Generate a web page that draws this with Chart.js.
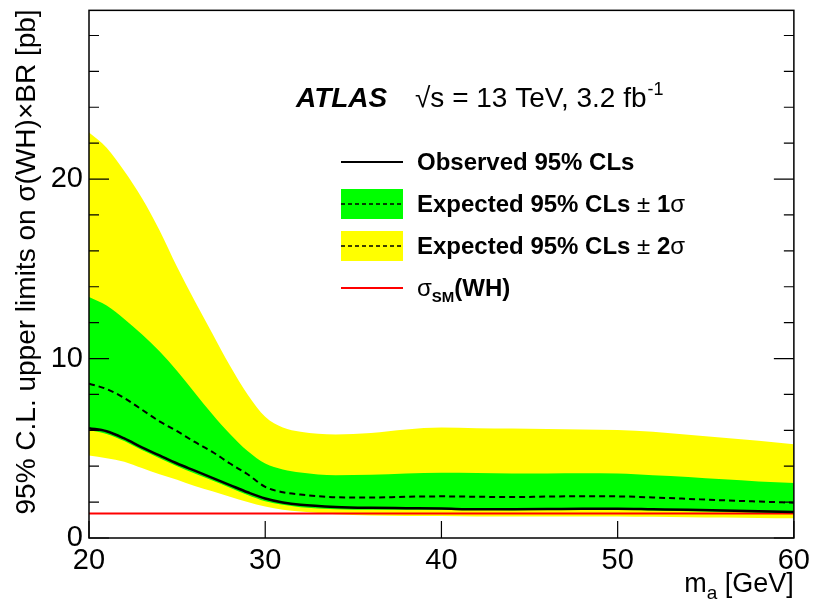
<!DOCTYPE html>
<html>
<head>
<meta charset="utf-8">
<script src="https://cdn.jsdelivr.net/npm/chart.js@4/dist/chart.umd.min.js"></script>
<style>
  html, body { margin: 0; padding: 0; background: #fff; }
  #wrap { width: 816px; height: 604px; }
</style>
</head>
<body>
<div id="wrap"><canvas id="limitChart" width="816" height="604"></canvas></div>
<script>
// m_a points [GeV]
const massPoints = [20, 21, 22, 23, 24, 25, 26, 27, 28, 29, 30, 31, 32, 34, 36, 38, 40, 42, 44, 46, 48, 50, 52, 54, 56, 58, 60];

// limits on sigma(WH) x BR [pb]
const observed = [6.12, 5.95, 5.55, 5.05, 4.6, 4.15, 3.75, 3.35, 2.95, 2.55, 2.2, 1.98, 1.85, 1.73, 1.68, 1.66, 1.64, 1.6, 1.6, 1.61, 1.63, 1.63, 1.6, 1.57, 1.53, 1.49, 1.45];
const expected = [8.6, 8.3, 7.8, 7.15, 6.5, 5.95, 5.35, 4.8, 4.15, 3.55, 2.85, 2.55, 2.42, 2.27, 2.25, 2.3, 2.32, 2.3, 2.28, 2.31, 2.33, 2.32, 2.26, 2.18, 2.1, 2.03, 1.97];
const plus1Sigma = [13.43, 12.95, 12.2, 11.35, 10.4, 9.3, 8.1, 6.9, 5.8, 4.85, 4.15, 3.82, 3.65, 3.5, 3.52, 3.6, 3.63, 3.62, 3.6, 3.6, 3.61, 3.6, 3.5, 3.4, 3.27, 3.15, 3.06];
const minus1Sigma = [6.0, 5.8, 5.4, 4.9, 4.45, 4.0, 3.6, 3.2, 2.8, 2.4, 2.05, 1.85, 1.72, 1.6, 1.57, 1.58, 1.58, 1.56, 1.55, 1.56, 1.57, 1.57, 1.53, 1.49, 1.45, 1.41, 1.38];
const plus2Sigma = [22.6, 21.75, 20.45, 18.95, 17.15, 15.1, 13.2, 11.4, 9.6, 8.0, 6.75, 6.15, 5.92, 5.77, 5.85, 6.05, 6.15, 6.12, 6.1, 6.07, 6.05, 6.02, 5.92, 5.75, 5.58, 5.42, 5.22];
const minus2Sigma = [4.59, 4.45, 4.25, 3.9, 3.55, 3.25, 2.9, 2.6, 2.3, 2.0, 1.75, 1.58, 1.48, 1.33, 1.26, 1.23, 1.22, 1.2, 1.2, 1.2, 1.2, 1.2, 1.18, 1.16, 1.14, 1.12, 1.1];
const smWH = [1.36, 1.36];
const smMass = [20, 60];

const xTicks = [20, 30, 40, 50, 60];
const yTicks = [0, 10, 20];
const yMinorTicks = [2, 4, 6, 8, 12, 14, 16, 18, 22, 24, 26, 28];

const FONT = "'Liberation Sans', Arial, sans-serif";

function pts(ys, xs) {
  return ys.map((y, i) => ({ x: (xs || massPoints)[i], y: y }));
}

const bandStyle = { pointRadius: 0, borderWidth: 0, cubicInterpolationMode: "monotone" };

// frame, inner ticks, titles and legend
const decorations = {
  id: "decorations",
  afterDraw(chart) {
    const ctx = chart.ctx;
    const a = chart.chartArea;
    const xs = chart.scales.x;
    const ys = chart.scales.y;
    ctx.save();
    ctx.strokeStyle = "#000";
    ctx.lineWidth = 1.5;
    ctx.strokeRect(a.left, a.top, a.right - a.left, a.bottom - a.top);

    ctx.lineWidth = 1.2;
    ctx.beginPath();
    yTicks.forEach((v) => {
      const py = ys.getPixelForValue(v);
      ctx.moveTo(a.left, py); ctx.lineTo(a.left + 20, py);
      ctx.moveTo(a.right, py); ctx.lineTo(a.right - 20, py);
    });
    yMinorTicks.forEach((v) => {
      const py = ys.getPixelForValue(v);
      ctx.moveTo(a.left, py); ctx.lineTo(a.left + 10, py);
      ctx.moveTo(a.right, py); ctx.lineTo(a.right - 10, py);
    });
    xTicks.forEach((v) => {
      const px = xs.getPixelForValue(v);
      ctx.moveTo(px, a.bottom); ctx.lineTo(px, a.bottom - 17);
    });
    ctx.stroke();

    // y title
    ctx.fillStyle = "#000";
    ctx.save();
    ctx.translate(35, a.top - 1);
    ctx.rotate(-Math.PI / 2);
    ctx.font = "28px " + FONT;
    ctx.textAlign = "right";
    ctx.textBaseline = "alphabetic";
    ctx.fillText("95% C.L. upper limits on \u03c3(WH)\u00d7BR [pb]", 0, 0);
    ctx.restore();

    // x title
    ctx.textAlign = "left";
    ctx.textBaseline = "alphabetic";
    ctx.font = "27px " + FONT;
    const t1 = "m", t3 = " [GeV]";
    const w1 = ctx.measureText(t1).width;
    const w3 = ctx.measureText(t3).width;
    ctx.font = "19px " + FONT;
    const w2 = ctx.measureText("a").width;
    let x0 = a.right - (w1 + w2 + w3);
    const by = 592;
    ctx.font = "27px " + FONT;
    ctx.fillText(t1, x0, by);
    ctx.font = "19px " + FONT;
    ctx.fillText("a", x0 + w1, by + 7);
    ctx.font = "27px " + FONT;
    ctx.fillText(t3, x0 + w1 + w2, by);

    // ATLAS label
    ctx.font = "italic bold 28px " + FONT;
    ctx.fillText("ATLAS", 296, 107);
    ctx.font = "28px " + FONT;
    const lumi = "\u221as = 13 TeV, 3.2 fb";
    ctx.fillText(lumi, 415, 107);
    const lw = ctx.measureText(lumi).width;
    ctx.font = "18px " + FONT;
    ctx.fillText("-1", 415 + lw + 1, 95);

    // legend
    const lx0 = 341, lx1 = 403, tx = 417;
    ctx.lineWidth = 2;
    ctx.strokeStyle = "#000";
    ctx.beginPath(); ctx.moveTo(lx0, 162); ctx.lineTo(lx1, 162); ctx.stroke();
    ctx.fillStyle = "#00ff00";
    ctx.fillRect(lx0, 189, lx1 - lx0, 30);
    ctx.fillStyle = "#ffff00";
    ctx.fillRect(lx0, 231, lx1 - lx0, 30);
    ctx.setLineDash([4, 3]);
    ctx.lineWidth = 1.5;
    ctx.beginPath(); ctx.moveTo(lx0, 204); ctx.lineTo(lx1, 204); ctx.stroke();
    ctx.beginPath(); ctx.moveTo(lx0, 246); ctx.lineTo(lx1, 246); ctx.stroke();
    ctx.setLineDash([]);
    ctx.strokeStyle = "#ff0000";
    ctx.lineWidth = 2;
    ctx.beginPath(); ctx.moveTo(lx0, 288); ctx.lineTo(lx1, 288); ctx.stroke();

    ctx.fillStyle = "#000";
    const seg = (parts, x, y) => {
      parts.forEach((p) => {
        ctx.font = p[1] + FONT;
        ctx.fillText(p[0], x, y + (p[2] || 0));
        x += ctx.measureText(p[0]).width;
      });
    };
    seg([["Observed 95% CLs", "bold 24px "]], tx, 170);
    seg([["Expected 95% CLs ", "bold 24px "], ["\u00b1", "24px "], [" 1", "bold 24px "], ["\u03c3", "24px "]], tx, 212);
    seg([["Expected 95% CLs ", "bold 24px "], ["\u00b1", "24px "], [" 2", "bold 24px "], ["\u03c3", "24px "]], tx, 254);
    seg([["\u03c3", "24px "], ["SM", "bold 15px ", 6], ["(WH)", "bold 24px "]], tx, 296);

    ctx.restore();
  },
};

const ctx = document.getElementById("limitChart").getContext("2d");
new Chart(ctx, {
  type: "line",
  data: {
    datasets: [
      { label: "Observed", data: pts(observed), borderColor: "#000", borderWidth: 2.5, pointRadius: 0, fill: false, cubicInterpolationMode: "monotone" },
      { label: "Expected", data: pts(expected), borderColor: "#000", borderWidth: 2, borderDash: [6, 4], pointRadius: 0, fill: false, cubicInterpolationMode: "monotone" },
      { label: "SM", data: pts(smWH, smMass), borderColor: "#ff0000", borderWidth: 2, pointRadius: 0, fill: false },
      { label: "+1s", data: pts(plus1Sigma), backgroundColor: "#00ff00", fill: "+1", ...bandStyle },
      { label: "-1s", data: pts(minus1Sigma), fill: false, ...bandStyle },
      { label: "+2s", data: pts(plus2Sigma), backgroundColor: "#ffff00", fill: "+1", ...bandStyle },
      { label: "-2s", data: pts(minus2Sigma), fill: false, ...bandStyle },
    ],
  },
  options: {
    responsive: false,
    animation: false,
    layout: { padding: { top: 6, right: 20, left: 0, bottom: 0 } },
    plugins: { legend: { display: false }, tooltip: { enabled: false } },
    scales: {
      x: {
        type: "linear",
        min: 20,
        max: 60,
        grid: { display: false, drawTicks: false },
        border: { display: false },
        afterBuildTicks: (s) => { s.ticks = xTicks.map((v) => ({ value: v })); },
        afterFit: (s) => { s.height = 66; },
        ticks: { color: "#000", font: { family: FONT, size: 29 }, padding: 6, maxRotation: 0 },
      },
      y: {
        type: "linear",
        min: 0,
        max: 29.4,
        grid: { display: false, drawTicks: false },
        border: { display: false },
        afterBuildTicks: (s) => { s.ticks = yTicks.map((v) => ({ value: v })); },
        afterFit: (s) => { s.width = 89; },
        ticks: { color: "#000", font: { family: FONT, size: 29, lineHeight: 0.3 }, padding: 6 },
      },
    },
  },
  plugins: [decorations],
});
</script>
</body>
</html>
